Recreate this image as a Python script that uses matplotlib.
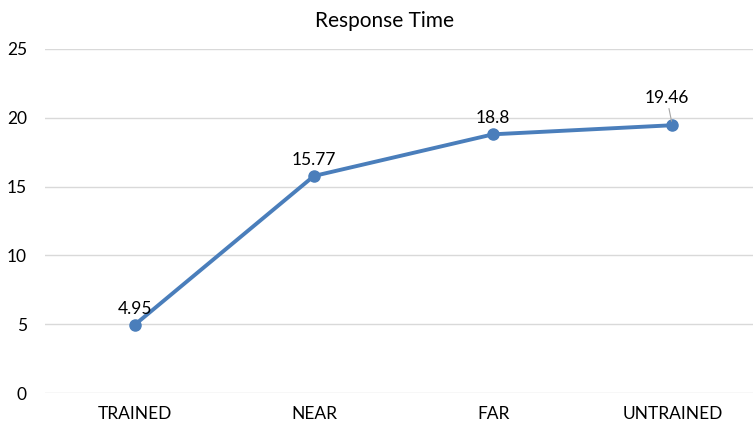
import matplotlib.pyplot as plt

# Data
categories = ['TRAINED', 'NEAR', 'FAR', 'UNTRAINED']
response_time = [4.95, 15.77, 18.8, 19.46]

plt.rcParams['font.family'] = ['Lato', 'DejaVu Sans']

fig = plt.figure(figsize=(7.53, 4.29), dpi=100)
ax = fig.add_axes([0.0598, 0.0839, 0.9402, 0.8019])

x = list(range(len(categories)))
ax.plot(x, response_time, color='#4A7EBB', linewidth=2.8, marker='o',
        markersize=8, zorder=3)

# Data labels
for i, v in enumerate(response_time):
    if i == len(response_time) - 1:
        ax.annotate(f'{v:g}', xy=(i, v), xytext=(-4, 14), textcoords='offset points',
                    ha='center', va='bottom', fontsize=12.5,
                    arrowprops=dict(arrowstyle='-', color='#A6A6A6', lw=0.8,
                                    shrinkA=0, shrinkB=3))
    else:
        ax.annotate(f'{v:g}', xy=(i, v), xytext=(0, 6), textcoords='offset points',
                    ha='center', va='bottom', fontsize=12.5)

# Formatting
ax.set_ylim(0, 25)
ax.set_yticks(range(0, 26, 5))
ax.set_xlim(-0.5, 3.45)
ax.set_xticks(x)
ax.set_xticklabels(categories)
ax.grid(axis='y', color='#D9D9D9', linewidth=1)
ax.set_axisbelow(True)
for s in ax.spines.values():
    s.set_visible(False)
ax.tick_params(length=0, labelsize=12.5, colors='#000000')
ax.tick_params(axis='y', pad=13)
ax.tick_params(axis='x', pad=9)

fig.suptitle('Response Time', x=0.51, y=0.975, fontsize=15)

plt.savefig('out.png', dpi=100)
plt.close()
